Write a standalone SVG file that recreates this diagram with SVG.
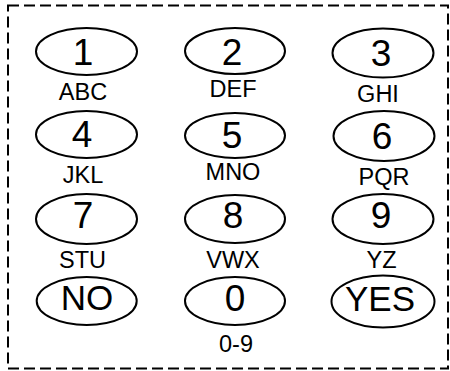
<svg xmlns="http://www.w3.org/2000/svg" width="450" height="371" viewBox="0 0 450 371">
<style>
.key{fill:none;stroke:#000;stroke-width:2}
.big{font-family:"Liberation Sans",Arial,sans-serif;font-size:37px;text-anchor:middle;fill:#000}
.word{font-family:"Liberation Sans",Arial,sans-serif;font-size:35px;text-anchor:middle;fill:#000}
.lbl{font-family:"Liberation Sans",Arial,sans-serif;font-size:23.5px;text-anchor:middle;fill:#000}
</style>
<rect x="8" y="5.5" width="440" height="363" fill="none" stroke="#000" stroke-width="2" stroke-dasharray="11,5"/>
<g id="connectors"></g>
<g id="k1"><ellipse class="key" cx="86.5" cy="51.5" rx="50.5" ry="23.5"/><text class="big" x="83" y="65">1</text><text class="lbl" x="83" y="100">ABC</text></g>
<g id="k2"><ellipse class="key" cx="235" cy="51" rx="50" ry="23"/><text class="big" x="232" y="65">2</text><text class="lbl" x="233" y="97">DEF</text></g>
<g id="k3"><ellipse class="key" cx="383" cy="53" rx="50.5" ry="24.5"/><text class="big" x="381" y="66">3</text><text class="lbl" x="378" y="101.5">GHI</text></g>
<g id="k4"><ellipse class="key" cx="86.5" cy="134.5" rx="50.5" ry="23.5"/><text class="big" x="82" y="147">4</text><text class="lbl" x="83" y="183">JKL</text></g>
<g id="k5"><ellipse class="key" cx="235" cy="135.5" rx="50" ry="22.5"/><text class="big" x="232" y="148">5</text><text class="lbl" x="233" y="180">MNO</text></g>
<g id="k6"><ellipse class="key" cx="384" cy="136" rx="50.5" ry="25"/><text class="big" x="382" y="149">6</text><text class="lbl" x="384" y="185">PQR</text></g>
<g id="k7"><ellipse class="key" cx="86.5" cy="219" rx="50.5" ry="25"/><text class="big" x="83" y="228">7</text><text class="lbl" x="82.5" y="268">STU</text></g>
<g id="k8"><ellipse class="key" cx="235" cy="219" rx="50" ry="24"/><text class="big" x="233" y="228">8</text><text class="lbl" x="233" y="268">VWX</text></g>
<g id="k9"><ellipse class="key" cx="383" cy="219" rx="50.5" ry="25"/><text class="big" x="381" y="228">9</text><text class="lbl" x="381.5" y="268">YZ</text></g>
<g id="kNO"><ellipse class="key" cx="86.7" cy="301" rx="50" ry="24"/><text class="word" x="87" y="310">NO</text></g>
<g id="k0"><ellipse class="key" cx="235" cy="301" rx="50" ry="24"/><text class="big" x="235" y="311">0</text><text class="lbl" x="236" y="352">0-9</text></g>
<g id="kYES"><ellipse class="key" cx="383" cy="301.5" rx="51.5" ry="26"/><text class="word" x="380" y="311">YES</text></g>
</svg>
